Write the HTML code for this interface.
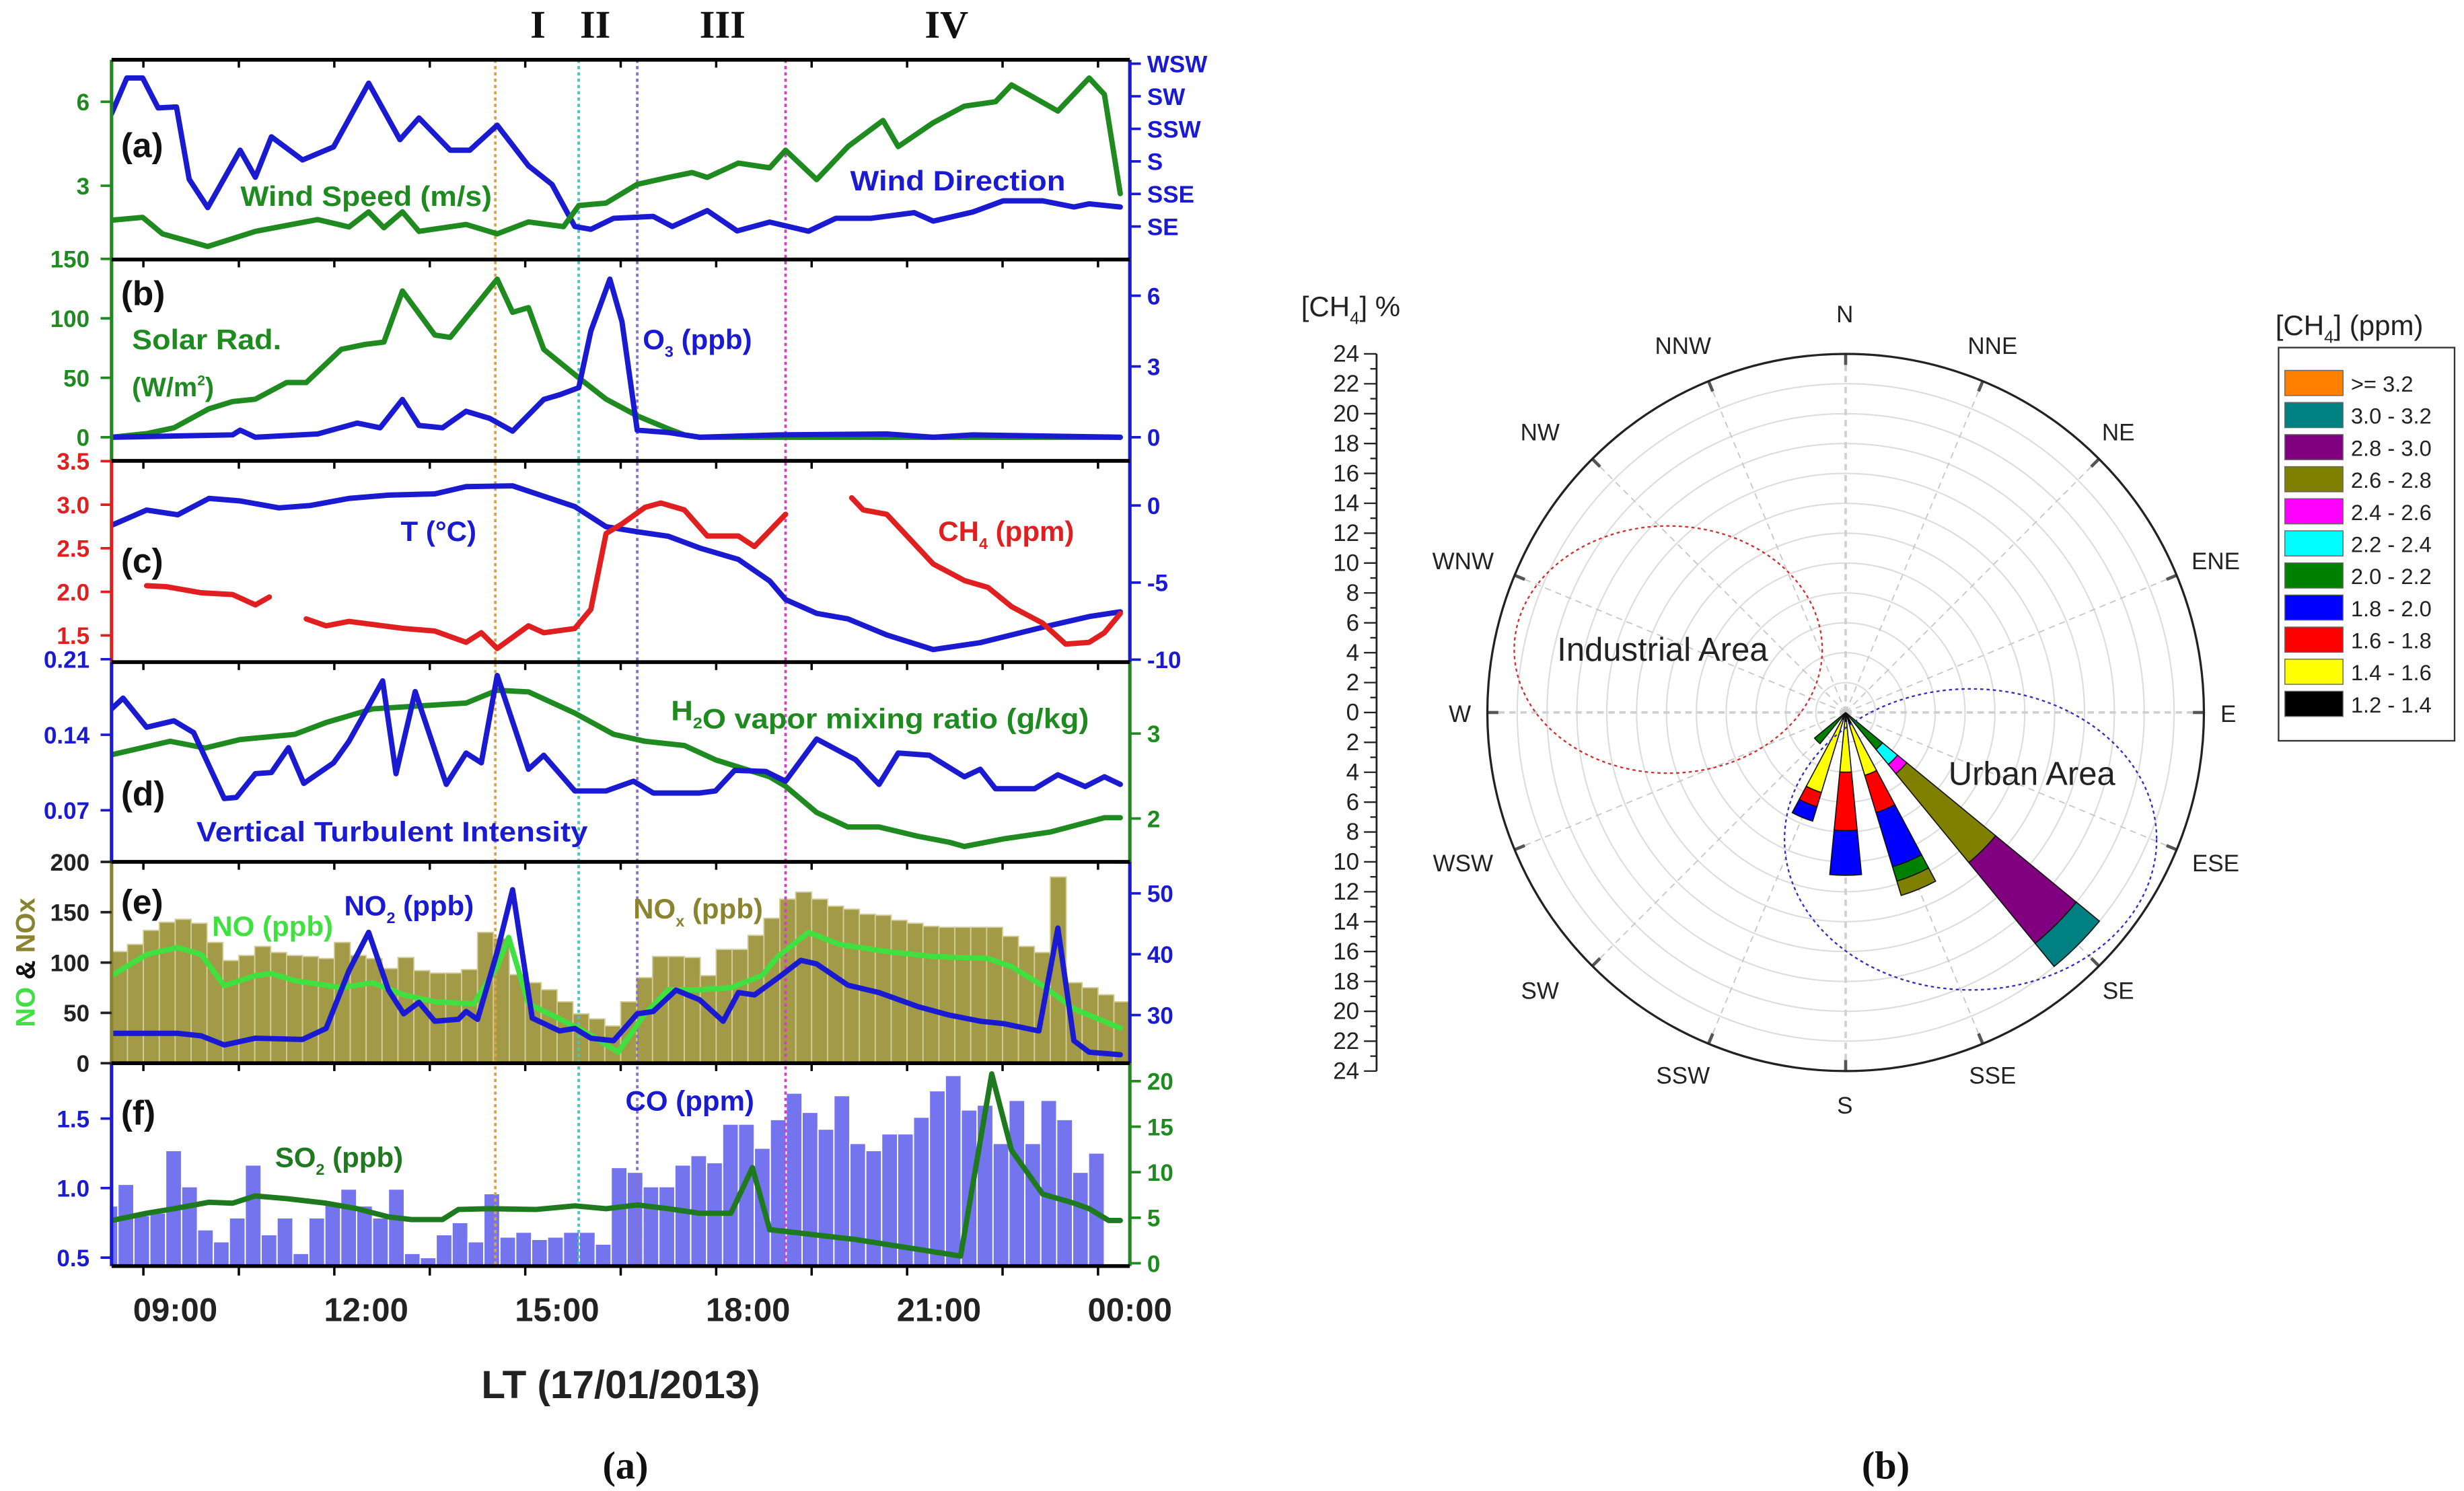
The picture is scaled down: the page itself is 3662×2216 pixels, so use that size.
<!DOCTYPE html>
<html><head><meta charset="utf-8">
<style>
html,body{margin:0;padding:0;background:#fff;}
svg{display:block;}
text{font-family:"Liberation Sans Narrow","Liberation Sans",sans-serif;font-weight:bold;}
.serif{font-family:"Liberation Serif",serif;}
.reg{font-family:"Liberation Sans",sans-serif;font-weight:normal;}
</style></head>
<body>
<svg id="fig" xmlns="http://www.w3.org/2000/svg" width="3662" height="2216" viewBox="0 0 1568 948" preserveAspectRatio="none">
<rect x="0" y="0" width="1568" height="948" fill="#fff"/>
<defs>
 <clipPath id="clipA"><rect x="71" y="38" width="648" height="127"/></clipPath>
 <clipPath id="clipB"><rect x="71" y="165" width="648" height="128"/></clipPath>
 <clipPath id="clipC"><rect x="71" y="293" width="648" height="128"/></clipPath>
 <clipPath id="clipD"><rect x="71" y="421" width="648" height="127"/></clipPath>
 <clipPath id="clipE"><rect x="71" y="548" width="648" height="128"/></clipPath>
 <clipPath id="clipF"><rect x="71" y="676" width="648" height="129"/></clipPath>
</defs>
<g id="left"></g>
<g id="rose"></g>
</svg>
<script>
// ---------- time series data (hours of day, values) ----------
const windSpeedT=[8.0,8.49,8.8,9.51,10.26,11.24,11.73,12.04,12.28,12.57,12.83,13.57,14.06,14.55,15.10,15.34,15.77,16.26,16.75,17.12,17.36,17.85,18.34,18.59,19.08,19.57,20.12,20.36,20.91,21.40,21.89,22.14,22.87,23.36,23.60,23.85];
const windSpeedV=[1.77,1.87,1.28,0.83,1.37,1.79,1.53,2.07,1.5,2.07,1.37,1.62,1.28,1.71,1.54,2.29,2.38,3.05,3.3,3.47,3.3,3.81,3.64,4.27,3.22,4.4,5.33,4.4,5.25,5.84,6.0,6.6,5.67,6.85,6.26,2.72];
const windDirT=[8.0,8.24,8.49,8.73,9.02,9.22,9.51,10.02,10.26,10.51,11.0,11.49,12.04,12.53,12.83,13.32,13.63,14.06,14.55,14.92,15.28,15.53,15.89,16.51,16.81,17.36,17.83,18.34,18.95,19.38,19.93,20.61,20.91,21.53,22.01,22.63,23.12,23.36,23.85];
const windDirV=[213,237.6,237.6,217,217.6,167.6,148,187.7,169,197,181,190,234,195,210,187.7,187.7,205,177,164,135,133,140.7,142,135,146,132,138,131.7,140.7,140.7,144.6,138.7,145,152.7,152.7,148.5,150.6,148.5];
const solarT=[8.0,8.55,8.98,9.53,9.90,10.26,10.75,11.06,11.61,11.98,12.28,12.57,13.08,13.32,14.06,14.30,14.55,14.79,15.34,15.77,16.26,16.75,17.0,17.24,23.85];
const solarV=[0,3,8,24,30,32,46,46,74,78,80,123,86,84,133,105,109,74,50,32,18,7,2,0,0];
const o3T=[8.0,9.90,10.02,10.26,11.24,11.86,12.22,12.57,12.83,13.20,13.57,13.94,14.30,14.79,15.04,15.34,15.53,15.83,16.02,16.26,16.75,17.24,18.47,20.18,20.91,21.53,23.85];
const o3V=[0,0.1,0.3,0,0.14,0.6,0.4,1.6,0.5,0.4,1.1,0.8,0.26,1.6,1.8,2.1,4.5,6.7,4.9,0.3,0.2,0,0.1,0.14,0,0.1,0];
const ch4T=[8.55,8.86,9.41,9.90,10.26,10.48,null,11.06,11.37,11.73,12.59,13.08,13.57,13.81,14.06,14.55,14.79,15.28,15.53,15.77,16.02,16.38,16.63,17.0,17.36,17.85,18.10,18.59,null,19.63,19.81,20.18,20.91,21.40,21.77,22.14,22.63,22.99,23.36,23.60,23.85];
const ch4V=[2.07,2.06,1.99,1.97,1.85,1.94,null,1.69,1.61,1.66,1.58,1.55,1.42,1.53,1.35,1.61,1.53,1.58,1.8,2.67,2.78,2.97,3.02,2.94,2.64,2.64,2.52,2.89,null,3.08,2.94,2.89,2.32,2.13,2.05,1.83,1.64,1.4,1.42,1.53,1.75];
const tempT=[8.0,8.55,9.04,9.53,10.02,10.63,11.12,11.73,12.35,13.08,13.57,14.30,14.79,15.28,15.77,16.26,16.75,17.24,17.85,18.34,18.59,19.08,19.57,20.18,20.91,21.65,22.63,23.36,23.85];
const tempV=[-1.29,-0.3,-0.6,0.46,0.3,-0.15,0,0.46,0.67,0.76,1.22,1.28,0.6,-0.07,-1.38,-1.7,-2.0,-2.76,-3.5,-4.9,-6.1,-7.0,-7.36,-8.4,-9.35,-8.9,-7.9,-7.2,-6.9];
const vtiT=[8.0,8.18,8.55,8.98,9.29,9.77,9.96,10.26,10.51,10.78,11.02,11.49,11.73,12.26,12.47,12.77,13.26,13.57,13.81,14.06,14.55,14.79,15.28,15.77,16.20,16.51,17.24,17.49,17.79,18.28,18.59,19.08,19.69,20.06,20.36,20.85,21.40,21.65,21.89,22.50,22.87,23.30,23.60,23.85];
const vtiV=[.164,.174,.147,.153,.142,.081,.082,.104,.105,.128,.095,.114,.134,.19,.104,.18,.094,.123,.114,.195,.108,.121,.088,.088,.097,.086,.086,.088,.107,.106,.097,.136,.117,.094,.123,.121,.101,.108,.09,.09,.103,.092,.101,.094];
const h2oT=[8.0,8.92,9.47,10.02,10.88,11.37,12.10,13.57,14.06,14.55,15.28,15.89,16.38,17.0,17.49,18.34,18.59,19.08,19.57,20.06,20.67,21.16,21.40,22.01,22.75,23.60,23.85];
const h2oV=[2.75,2.91,2.83,2.93,2.99,3.13,3.29,3.36,3.51,3.49,3.24,2.99,2.91,2.86,2.69,2.49,2.38,2.07,1.9,1.9,1.79,1.72,1.67,1.76,1.84,2.01,2.01];
const noxStart=8.0;
const noxV=[110.9,118,132,140,143,139,120,102,107,116,110,107,106,104,120,107,104,94,105,92,89.5,89.5,93,130,124,88,80,73,61,49,44,37,61,85,106,106,105,87,113,113,127,144,163,170,163,156,153,148,147,142,139,136,135,135,135,135,126,116,110,185,80,75,68,61];
const noT=[8.0,8.55,9.04,9.41,9.77,10.26,10.51,10.88,11.61,12.10,12.59,13.08,13.69,14.06,14.24,14.55,15.04,15.53,15.96,16.38,16.75,17.24,17.73,18.22,18.47,18.95,19.44,20.18,20.91,21.77,22.14,22.63,23.12,23.85];
const noV=[87,108,115,108,77,87,89,82,75,80,68,61,59,96,125,59,44,28,11,49,73,73,75,87,106,130,118,111,106,104,96,77,54,35];
const no2T=[8.0,9.04,9.41,9.77,10.26,11.0,11.37,11.73,12.04,12.35,12.59,12.83,13.08,13.45,13.57,13.75,14.06,14.30,14.61,15.04,15.28,15.53,15.89,16.26,16.51,16.87,17.24,17.61,17.85,18.10,18.47,18.83,19.08,19.57,20.06,20.67,21.16,21.65,22.01,22.57,22.87,23.12,23.36,23.85];
const no2V=[27.0,27.0,26.6,25.1,26.2,26.0,27.8,37.3,43.6,34.1,30.2,32.1,29.0,29.3,30.6,29.3,40.4,50.6,29.5,27.4,27.8,26.2,25.8,30.2,30.6,34.1,32.5,29.0,33.7,33.3,36.1,39.0,38.4,34.9,33.7,31.4,30.0,29.0,28.6,27.4,44.3,25.8,23.9,23.5];
const coStart=7.85;
const coV=[0.872,1.027,0.803,0.821,1.27,1.01,0.70,0.614,0.786,1.166,0.665,0.786,0.53,0.786,0.89,0.993,0.872,0.786,0.993,0.53,0.5,0.665,0.752,0.614,0.96,0.648,0.683,0.631,0.648,0.683,0.683,0.597,1.148,1.114,1.01,1.01,1.166,1.234,1.183,1.46,1.46,1.287,1.493,1.683,1.545,1.424,1.665,1.321,1.27,1.39,1.39,1.51,1.70,1.81,1.562,1.597,1.321,1.631,1.321,1.631,1.493,1.114,1.252];
const so2T=[8.0,8.55,8.98,9.53,9.90,10.26,10.75,11.37,11.86,12.35,12.71,13.20,13.45,13.94,14.67,15.28,15.77,16.26,16.75,17.24,17.73,18.07,18.34,19.69,21.34,21.83,22.14,22.63,23.12,23.36,23.67,23.85];
const so2V=[4.7,5.5,6.0,6.7,6.6,7.4,7.1,6.6,6.0,5.1,4.8,4.8,5.9,6.0,5.9,6.3,6.0,6.4,6.0,5.5,5.5,10.5,3.7,2.6,0.8,20.8,12.4,7.6,6.6,6.0,4.7,4.7];
const xTickHours=[9,12,15,18,21,24];
const xTickLabels=["09:00","12:00","15:00","18:00","21:00","00:00"];
const eventHours=[14.03,15.34,16.26,18.59];
const eventLabels=["I","II","III","IV"];
const eventLabelHours=[14.7,15.6,17.6,21.12];
// ---------- wind rose data ----------
const roseBins=[">= 3.2","3.0 - 3.2","2.8 - 3.0","2.6 - 2.8","2.4 - 2.6","2.2 - 2.4","2.0 - 2.2","1.8 - 2.0","1.6 - 1.8","1.4 - 1.6","1.2 - 1.4"];
const roseDirections=[225,202.5,180,157.5,135];
const roseSegBins=[[6],[10,9,8,7],[10,9,8,7],[10,9,8,7,6,3],[6,5,4,3,2,1]];
const roseSegPct=[[2.7],[0.5,5.1,1.0,1.0],[0.6,3.4,3.9,3.0],[0.8,3.6,2.6,3.8,1.0,1.0],[3.2,1.3,0.8,7.7,7.0,2.0]];
const roseCompass=["N","NNE","NE","ENE","E","ESE","SE","SSE","S","SSW","SW","WSW","W","WNW","NW","NNW"];
const roseScaleTicks=[0,2,4,6,8,10,12,14,16,18,20,22,24];

const NS="http://www.w3.org/2000/svg";
function mk(tag,attrs,parent){const e=document.createElementNS(NS,tag);for(const k in attrs)e.setAttribute(k,attrs[k]);(parent||document.getElementById('fig')).appendChild(e);return e;}
function txt(s,x,y,size,fill,anchor,parent,name,cls){const t=mk('text',{x:x,y:y,'font-size':size,fill:fill,'text-anchor':anchor||'start'},parent);if(cls)t.setAttribute('class',cls);t.textContent=s;


return t;}

const L=document.getElementById('left');
const X=h=>71+(h-8)*40.5;
const panels=[
 {id:'a',top:38,bot:165,clip:'clipA',lc:'#1f8a1f',rc:'#1a1ad0'},
 {id:'b',top:165,bot:293,clip:'clipB',lc:'#1f8a1f',rc:'#1a1ad0'},
 {id:'c',top:293,bot:421,clip:'clipC',lc:'#e02020',rc:'#1a1ad0'},
 {id:'d',top:421,bot:548,clip:'clipD',lc:'#1a1ad0',rc:'#1f8a1f'},
 {id:'e',top:548,bot:676,clip:'clipE',lc:'#8a8430',rc:'#1a1ad0'},
 {id:'f',top:676,bot:805,clip:'clipF',lc:'#1a1ad0',rc:'#1f8a1f'}];
const sc={
 aL:v=>171.5-v*17.8, aR:d=>144-(d-135)/22.5*20.7,
 bL:v=>278-v*0.756, bR:v=>278-v*15,
 cL:v=>404-(v-1.5)*55.4, cR:v=>321.4-v*9.8,
 dL:v=>515.2-(v-0.07)*686, dR:v=>520.4-(v-2)*54,
 eL:v=>676-v*0.64, eR:v=>568-(v-50)*3.87,
 fL:v=>799.6-(v-0.5)*88.4, fR:v=>803.2-v*5.79};

function series(ts,vs,ys,color,clip,name,w){
 let d='',pen=false;
 for(let i=0;i<ts.length;i++){
  if(ts[i]===null||vs[i]===null){pen=false;continue;}
  d+=(pen?'L':'M')+X(ts[i]).toFixed(1)+','+ys(vs[i]).toFixed(1);pen=true;}
 const p=mk('path',{d:d,fill:'none',stroke:color,'stroke-width':w||3.4,'stroke-linejoin':'round','stroke-linecap':'round','clip-path':'url(#'+clip+')'},L);
 
 
}
function bars(start,vs,ys,base,fill,stroke,clip,name){
 const g=mk('g',{'clip-path':'url(#'+clip+')'},L);
 
 
 vs.forEach((v,i)=>{const x0=X(start+i*0.25),x1=X(start+(i+1)*0.25),y=ys(v);
  const r=mk('rect',{x:x0,y:y,width:x1-x0,height:Math.max(0,base-y),fill:fill,stroke:stroke,'stroke-width':0.8},g);
  
  });
}

bars(noxStart,noxV,sc.eL,676,'#a39a48','#d2cc98','clipE','nox-bars');
bars(coStart,coV,sc.fL,805,'#7474ee','#ffffff','clipF','co-bars');

const evColors=['#e0a040','#40c8c0','#8a70c0','#d040c0'];
eventHours.forEach((h,i)=>{const l=mk('line',{x1:X(h),x2:X(h),y1:38,y2:805,stroke:evColors[i],'stroke-width':1.6,'stroke-dasharray':'2,2'},L);
 
 
 txt(eventLabels[i],X(eventLabelHours[i]),24,25,'#111','middle',L,'event-label-'+eventLabels[i],'serif');});

series(windDirT,windDirV,sc.aR,'#1a1ad0','clipA','wind-direction-line');
series(windSpeedT,windSpeedV,sc.aL,'#1f8a1f','clipA','wind-speed-line');
series(solarT,solarV,sc.bL,'#1f8a1f','clipB','solar-radiation-line');
series(o3T,o3V,sc.bR,'#1a1ad0','clipB','o3-line');
series(tempT,tempV,sc.cR,'#1a1ad0','clipC','temperature-line');
series(ch4T,ch4V,sc.cL,'#e02020','clipC','ch4-line');
series(h2oT,h2oV,sc.dR,'#1f8a1f','clipD','h2o-line');
series(vtiT,vtiV,sc.dL,'#1a1ad0','clipD','vti-line');
series(noT,noV,sc.eL,'#40e040','clipE','no-line');
series(no2T,no2V,sc.eR,'#1a1ad0','clipE','no2-line');
series(so2T,so2V,sc.fR,'#1f7a1f','clipF','so2-line');

panels.forEach(p=>{
 const l1=mk('line',{x1:71,x2:71,y1:p.top,y2:p.bot,stroke:p.lc,'stroke-width':2.2},L);
 
 
 const l2=mk('line',{x1:719,x2:719,y1:p.top,y2:p.bot,stroke:p.rc,'stroke-width':2.2},L);
 
 
 const t=mk('line',{x1:71,x2:719,y1:p.top,y2:p.top,stroke:'#000','stroke-width':2.4},L);
 
 
 for(let h=8.5;h<24;h+=1.5){const tk=mk('line',{x1:X(h),x2:X(h),y1:p.top,y2:p.top+(Math.abs((h%3))<0.01?7:5),stroke:'#000','stroke-width':1.5},L);
  
  }
});
const bl=mk('line',{x1:71,x2:719,y1:805,y2:805,stroke:'#000','stroke-width':2.4},L);


for(let h=8.5;h<=24;h+=1.5){const tk=mk('line',{x1:X(h),x2:X(h),y1:805,y2:805+(Math.abs(h%3)<0.01?9:6),stroke:'#000','stroke-width':1.5},L);
 
 }
xTickHours.forEach((h,i)=>txt(xTickLabels[i],X(h),840,21,'#222','middle',L,'x-tick-label'));
txt('LT (17/01/2013)',395,889,25,'#222','middle',L,'x-axis-title');
txt('(a)',398,940,25,'#111','middle',L,'subfigure-a-label','serif');

function yt(vals,labels,ys,side,color,pid){
 vals.forEach((v,i)=>{const y=ys(v);
  const x1=side==='L'?64:719,x2=side==='L'?71:726;
  const tk=mk('line',{x1:x1,x2:x2,y1:y,y2:y,stroke:color,'stroke-width':1.6},L);
  
  
  txt(labels[i],side==='L'?57:730,y+5.5,15,color,side==='L'?'end':'start',L,'y-tick-label-'+pid);});
}
yt([6,3],['6','3'],sc.aL,'L','#1f8a1f','a');
yt([247.5,225,202.5,180,157.5,135],['WSW','SW','SSW','S','SSE','SE'],sc.aR,'R','#1a1ad0','a');
yt([150,100,50,0],['150','100','50','0'],sc.bL,'L','#1f8a1f','b');
yt([6,3,0],['6','3','0'],sc.bR,'R','#1a1ad0','b');
yt([3.5,3.0,2.5,2.0,1.5],['3.5','3.0','2.5','2.0','1.5'],sc.cL,'L','#e02020','c');
yt([0,-5,-10],['0','-5','-10'],sc.cR,'R','#1a1ad0','c');
yt([0.21,0.14,0.07],['0.21','0.14','0.07'],sc.dL,'L','#1a1ad0','d');
yt([3,2],['3','2'],sc.dR,'R','#1f8a1f','d');
yt([200,150,100,50,0],['200','150','100','50','0'],sc.eL,'L','#222','e');
yt([50,40,30],['50','40','30'],sc.eR,'R','#1a1ad0','e');
yt([1.5,1.0,0.5],['1.5','1.0','0.5'],sc.fL,'L','#1a1ad0','f');
yt([20,15,10,5,0],['20','15','10','5','0'],sc.fR,'R','#1f8a1f','f');

const vt=mk('text',{x:0,y:0,'font-size':17,transform:'translate(22,612) rotate(-90)','text-anchor':'middle'},L);


vt.innerHTML='<tspan fill="#40e040">NO</tspan><tspan fill="#111"> &amp; </tspan><tspan fill="#8a8430">NOx</tspan>';

function lab(html,x,y,size,fill,name,tl){const t=mk('text',{x:x,y:y,'font-size':size,fill:fill},L);
 if(tl){t.setAttribute('textLength',tl);t.setAttribute('lengthAdjust','spacingAndGlyphs');}
 
 
 t.innerHTML=html;}
const sub=(s,sp)=>'<tspan font-size="10" dy="5">'+s+'</tspan><tspan dy="-5">'+(sp===false?'':' ')+'</tspan>';
lab('(a)',77,100,22,'#111','panel-label-a');
lab('Wind Speed (m/s)',153,131,18,'#1f8a1f','wind-speed-label',160);
lab('Wind Direction',541,121,18,'#1a1ad0','wind-direction-label',137);
lab('(b)',77,194,22,'#111','panel-label-b');
lab('Solar Rad.',84,222,18,'#1f8a1f','solar-rad-label',95);
lab('(W/m<tspan font-size="9" dy="-7">2</tspan><tspan dy="7">)</tspan>',84,252,17,'#1f8a1f','solar-unit-label');
lab('O'+sub('3')+'(ppb)',409,222,18,'#1a1ad0','o3-label');
lab('(c)',77,364,22,'#111','panel-label-c');
lab('T (°C)',255,344,18,'#1a1ad0','temperature-label');
lab('CH'+sub('4')+'(ppm)',597,344,18,'#e02020','ch4-label');
lab('H'+sub('2',false)+'O vapor mixing ratio (g/kg)',427,458,18,'#1f8a1f','h2o-label',266);
lab('(d)',77,512,22,'#111','panel-label-d');
lab('Vertical Turbulent Intensity',125,535,18,'#1a1ad0','vti-label',249);
lab('(e)',77,581,22,'#111','panel-label-e');
lab('NO (ppb)',135,595,18,'#40e040','no-label');
lab('NO'+sub('2')+'(ppb)',219,582,18,'#1a1ad0','no2-label');
lab('NO'+sub('x')+'(ppb)',403,584,18,'#8a8430','nox-label');
lab('(f)',77,715,22,'#111','panel-label-f');
lab('CO (ppm)',398,706,18,'#1a1ad0','co-label');
lab('SO'+sub('2')+'(ppb)',175,742,18,'#1f7a1f','so2-label');

// ---------- wind rose ----------
const Rg=document.getElementById('rose');
const cx=1174.5,cy=453,R=228,pr=R/24;
const P=(r,a)=>[cx+r*Math.sin(a*Math.PI/180),cy-r*Math.cos(a*Math.PI/180)];
for(let k=1;k<=11;k++){const c=mk('circle',{cx:cx,cy:cy,r:k*2*pr,fill:'none',stroke:'#dcdcdc','stroke-width':0.9},Rg);
 
 }
for(let i=0;i<16;i++){const p=P(R,i*22.5);
 const s=mk('line',{x1:cx,y1:cy,x2:p[0],y2:p[1],stroke:(i%4===0)?'#d0d0d0':'#c8c8c8','stroke-width':(i%4===0)?1.6:0.8,'stroke-dasharray':'4,3'},Rg);
 
 
 const q=P(R-7,i*22.5);
 const tk=mk('line',{x1:q[0],y1:q[1],x2:p[0],y2:p[1],stroke:'#555','stroke-width':2},Rg);
 
 }
const oc=mk('circle',{cx:cx,cy:cy,r:R,fill:'none',stroke:'#222','stroke-width':1.4},Rg);


const binColors=['#ff8000','#008080','#800080','#808000','#ff00ff','#00ffff','#008000','#0000ff','#ff0000','#ffff00','#000000'];
roseDirections.forEach((dir,di)=>{let r0=0;
 roseSegPct[di].forEach((pct,si)=>{const r1=r0+pct;const a0=dir-5.6,a1=dir+5.6;
  const p1=P(r0*pr,a0),p2=P(r1*pr,a0),p3=P(r1*pr,a1),p4=P(r0*pr,a1);
  const d='M'+p1+'L'+p2+'A'+(r1*pr)+','+(r1*pr)+' 0 0 1 '+p3+'L'+p4+'A'+(r0*pr)+','+(r0*pr)+' 0 0 0 '+p1+'Z';
  const w=mk('path',{d:d,fill:binColors[roseSegBins[di][si]],stroke:'#111','stroke-width':0.7},Rg);
  
  
  r0=r1;});});
const e1=mk('ellipse',{cx:1061.6,cy:413,rx:98,ry:78.6,fill:'none',stroke:'#d03030','stroke-width':1,'stroke-dasharray':'2,2'},Rg);


const e2=mk('ellipse',{cx:1254,cy:533.7,rx:118.4,ry:95.7,fill:'none',stroke:'#3030c0','stroke-width':1,'stroke-dasharray':'2,2'},Rg);


txt('Industrial Area',1058,420,21,'#222','middle',Rg,'industrial-area-label','reg');
txt('Urban Area',1293,499,21,'#222','middle',Rg,'urban-area-label','reg');
const compassPos=[[1174,205],[1268,225],[1348,280],[1410,362],[1418,459],[1410,554],[1348,635],[1268,689],[1174,708],[1071,689],[980,635],[931,554],[929,459],[931,362],[980,280],[1071,225]];
roseCompass.forEach((s,i)=>txt(s,compassPos[i][0],compassPos[i][1],15,'#222','middle',Rg,'compass-'+s,'reg'));
const ax=mk('line',{x1:876,x2:876,y1:cy-R,y2:cy+R,stroke:'#222','stroke-width':1.2},Rg);


for(let k=-24;k<=24;k++){const y=cy+k*pr;const tk=mk('line',{x1:k%2===0?868:872,x2:876,y1:y,y2:y,stroke:'#222','stroke-width':1},Rg);
 
 }
roseScaleTicks.forEach(v=>{txt(String(v),865,cy-v*pr+5,15,'#222','end',Rg,'rose-scale-label','reg');
 if(v>0)txt(String(v),865,cy+v*pr+5,15,'#222','end',Rg,'rose-scale-label','reg');});
const st=mk('text',{x:828,y:201,'font-size':18,fill:'#222',class:'reg'},Rg);


st.innerHTML='[CH<tspan font-size="11" dy="5">4</tspan><tspan dy="-5">] %</tspan>';
const lt=mk('text',{x:1448,y:213,'font-size':18,fill:'#222',class:'reg'},Rg);


lt.innerHTML='[CH<tspan font-size="11" dy="5">4</tspan><tspan dy="-5">] (ppm)</tspan>';
const lb=mk('rect',{x:1450,y:221,width:112,height:250,fill:'#fff',stroke:'#333','stroke-width':1},Rg);


roseBins.forEach((b,i)=>{const y=235.5+i*20.4;
 const r=mk('rect',{x:1454,y:y,width:37,height:16,fill:binColors[i],stroke:'#666','stroke-width':0.6},Rg);
 
 
 txt(b,1496,y+13.5,14,'#222','start',Rg,'legend-entry','reg');});
txt('(b)',1200,940,25,'#111','middle',Rg,'subfigure-b-label','serif');
</script>
</body></html>
